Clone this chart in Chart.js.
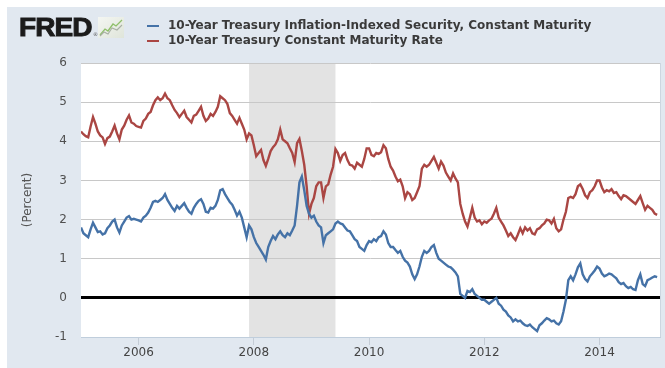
<!DOCTYPE html>
<html>
<head>
<meta charset="utf-8">
<script src="https://cdn.jsdelivr.net/npm/chart.js@4.4.1/dist/chart.umd.min.js"></script>
<style>
  html, body { margin: 0; padding: 0; background: #ffffff; width: 665px; height: 368px; overflow: hidden; }
  #panel { position: absolute; left: 7px; top: 7px; width: 658px; height: 361px; background: #e1e8f0; }
  #wrap { position: absolute; left: 0; top: 0; width: 665px; height: 368px; }
  #logo { position: absolute; left: 19px; top: 15px; font-family: "Liberation Sans", Arial, sans-serif; font-weight: bold;
          font-size: 25px; line-height: 25px; color: #1b1b1b; transform: scaleX(1.12); transform-origin: left top; letter-spacing: -0.8px;
          -webkit-text-stroke: 0.9px #1b1b1b; }
  #reg { position: absolute; left: 93px; top: 31px; font-family: "DejaVu Sans", sans-serif; font-size: 5px; color: #555; }
  #icon { position: absolute; left: 98px; top: 17px; }
  #legend { position: absolute; left: 147px; top: 18px; font-family: "DejaVu Sans", Verdana, sans-serif; font-size: 12px; font-weight: bold;
            line-height: 15px; color: #3a3a3a; }
  .row { position: relative; height: 15px; white-space: nowrap; }
  .mk { position: absolute; left: 0; top: 7px; width: 12px; height: 2px; }
  .tx { position: absolute; left: 21px; top: 0; }
</style>
</head>
<body>
<div id="panel"></div>
<div id="wrap"><canvas id="c" width="665" height="368"></canvas></div>
<div id="logo">FRED</div>
<div id="reg">®</div>
<svg id="icon" width="26" height="21" viewBox="0 0 26 21">
  <defs><linearGradient id="g" x1="0" y1="0" x2="1" y2="1"><stop offset="0" stop-color="#f4f6f2"/><stop offset="1" stop-color="#dfe5da"/></linearGradient></defs>
  <rect x="0" y="0" width="26" height="21" fill="url(#g)"/>
  <polyline points="2,18 7,12 10,14 15,7 18,9 24,3" fill="none" stroke="#8fbf6a" stroke-width="1.3"/>
  <polyline points="2,19 6,15 10,17 14,11 19,13 24,8" fill="none" stroke="#a9b0a4" stroke-width="1.1"/>
</svg>
<div id="legend"></div>
<script>
// ---- Data (semi-monthly readings, starting Jan 2005) ----
const startYear = 2005;
const pointsPerYear = 24;

const seriesNames = [
  "10-Year Treasury Inflation-Indexed Security, Constant Maturity",
  "10-Year Treasury Constant Maturity Rate"
];
const seriesColors = ["#4572A7", "#AA4643"];

// 10-Year Treasury Inflation-Indexed Security (percent)
const tipsYield = [
  // 2005
  1.80,1.65,1.60,1.55,1.75,1.92,1.80,1.68,1.70,1.62,1.65,1.78,1.85,1.95,2.00,1.80,1.67,1.85,1.95,2.05,2.09,2.00,2.02,2.00,
  // 2006
  1.98,1.95,2.05,2.10,2.18,2.30,2.45,2.48,2.45,2.50,2.55,2.65,2.50,2.40,2.30,2.22,2.35,2.28,2.35,2.42,2.30,2.20,2.15,2.30,
  // 2007
  2.40,2.48,2.52,2.40,2.20,2.18,2.30,2.28,2.35,2.50,2.75,2.78,2.65,2.55,2.45,2.38,2.25,2.10,2.20,2.05,1.80,1.55,1.85,1.75,
  // 2008
  1.55,1.40,1.30,1.20,1.10,0.98,1.30,1.45,1.58,1.50,1.62,1.70,1.60,1.55,1.65,1.60,1.72,1.85,2.35,2.95,3.10,2.75,2.35,2.15,
  // 2009
  2.05,2.10,1.95,1.85,1.80,1.40,1.60,1.65,1.70,1.75,1.90,1.95,1.90,1.88,1.80,1.72,1.70,1.60,1.50,1.45,1.30,1.25,1.20,1.35,
  // 2010
  1.45,1.42,1.50,1.45,1.55,1.58,1.70,1.62,1.40,1.30,1.30,1.22,1.15,1.20,1.05,0.95,0.90,0.80,0.60,0.48,0.60,0.80,1.05,1.20,
  // 2011
  1.15,1.20,1.30,1.35,1.15,1.00,0.95,0.90,0.85,0.80,0.78,0.72,0.65,0.55,0.10,0.05,0.00,0.18,0.15,0.22,0.10,0.05,0.00,-0.05,
  // 2012
  -0.05,-0.10,-0.15,-0.10,-0.05,0.00,-0.15,-0.20,-0.30,-0.35,-0.45,-0.50,-0.60,-0.55,-0.60,-0.58,-0.65,-0.70,-0.72,-0.68,-0.75,-0.80,-0.85,-0.70,
  // 2013
  -0.65,-0.58,-0.52,-0.55,-0.60,-0.58,-0.65,-0.68,-0.60,-0.35,-0.05,0.45,0.55,0.45,0.60,0.78,0.88,0.60,0.48,0.42,0.55,0.62,0.70,0.80,
  // 2014
  0.75,0.62,0.55,0.58,0.62,0.60,0.55,0.50,0.40,0.35,0.38,0.30,0.25,0.28,0.22,0.20,0.45,0.60,0.35,0.30,0.45,0.48,0.52,0.55,
  // Jan 2015
  0.53
];

// 10-Year Treasury Constant Maturity Rate (percent)
const nominalYield = [
  // 2005
  4.25,4.18,4.13,4.10,4.38,4.62,4.45,4.25,4.15,4.10,3.93,4.08,4.12,4.25,4.40,4.20,4.05,4.30,4.40,4.55,4.66,4.48,4.45,4.39,
  // 2006
  4.37,4.35,4.52,4.58,4.70,4.75,4.92,5.05,5.12,5.05,5.10,5.22,5.10,5.05,4.92,4.80,4.72,4.62,4.70,4.78,4.62,4.55,4.48,4.65,
  // 2007
  4.68,4.78,4.88,4.65,4.52,4.58,4.70,4.65,4.75,4.88,5.15,5.10,5.05,4.95,4.72,4.65,4.55,4.45,4.60,4.45,4.30,4.05,4.20,4.15,
  // 2008
  3.90,3.62,3.70,3.78,3.52,3.37,3.55,3.75,3.85,3.92,4.05,4.30,4.05,4.00,3.95,3.82,3.70,3.47,3.95,4.06,3.75,3.40,2.85,2.15,
  // 2009
  2.40,2.55,2.85,2.95,2.95,2.55,2.85,2.90,3.15,3.35,3.80,3.70,3.50,3.65,3.70,3.52,3.40,3.38,3.30,3.45,3.40,3.35,3.55,3.82,
  // 2010
  3.82,3.65,3.62,3.70,3.68,3.72,3.90,3.82,3.55,3.35,3.25,3.10,2.98,3.02,2.85,2.55,2.70,2.65,2.50,2.55,2.70,2.85,3.30,3.40,
  // 2011
  3.35,3.40,3.50,3.60,3.45,3.30,3.48,3.38,3.20,3.10,3.00,3.18,3.05,2.95,2.40,2.15,1.95,1.82,2.05,2.30,2.05,1.95,1.98,1.88,
  // 2012
  1.95,1.92,1.98,2.02,2.15,2.30,2.05,1.95,1.85,1.72,1.58,1.65,1.55,1.48,1.62,1.78,1.65,1.80,1.72,1.78,1.65,1.62,1.75,1.78,
  // 2013
  1.85,1.90,2.00,1.98,1.90,2.02,1.78,1.70,1.75,2.00,2.20,2.55,2.58,2.55,2.65,2.85,2.90,2.78,2.62,2.55,2.70,2.75,2.85,3.00,
  // 2014
  3.00,2.82,2.70,2.75,2.72,2.78,2.68,2.70,2.60,2.52,2.62,2.60,2.55,2.50,2.45,2.40,2.50,2.60,2.42,2.25,2.35,2.30,2.25,2.15,
  // Jan 2015
  2.12
];

const tickYears = [2006, 2008, 2010, 2012, 2014];
const yTicks = [-1, 0, 1, 2, 3, 4, 5, 6];
const recessions = [[2007.917, 2009.417]];
const xRange = [2005.0, 2015.05];
const yAxisTitle = "(Percent)";

// ---- Build ----
function toPoints(values) {
  return values.map((v, i) => ({ x: startYear + i / pointsPerYear, y: v }));
}

const legend = document.getElementById('legend');
seriesNames.forEach((n, i) => {
  const r = document.createElement('div'); r.className = 'row';
  const m = document.createElement('div'); m.className = 'mk'; m.style.background = seriesColors[i];
  const t = document.createElement('div'); t.className = 'tx'; t.textContent = n;
  r.appendChild(m); r.appendChild(t); legend.appendChild(r);
});

const bgPlugin = {
  id: 'bg',
  beforeDraw(chart) {
    const { ctx, chartArea: a, scales } = chart;
    ctx.save();
    ctx.fillStyle = '#ffffff';
    ctx.fillRect(a.left, a.top, a.right - a.left, a.bottom - a.top);
    ctx.fillStyle = '#e3e3e3';
    recessions.forEach(([s, e]) => {
      const x0 = scales.x.getPixelForValue(s), x1 = scales.x.getPixelForValue(e);
      ctx.fillRect(x0, a.top, x1 - x0, a.bottom - a.top);
    });
    ctx.restore();
  },
  afterDraw(chart) {
    const { ctx, chartArea: a } = chart;
    ctx.save();
    ctx.strokeStyle = '#cdd6e0';
    ctx.lineWidth = 1;
    ctx.beginPath();
    ctx.moveTo(a.right + 0.5, a.top);
    ctx.lineTo(a.right + 0.5, a.bottom);
    ctx.stroke();
    ctx.restore();
  }
};

new Chart(document.getElementById('c'), {
  type: 'line',
  data: {
    datasets: [
      { label: seriesNames[0], data: toPoints(tipsYield), borderColor: seriesColors[0], borderWidth: 2.4, pointRadius: 0, tension: 0 },
      { label: seriesNames[1], data: toPoints(nominalYield), borderColor: seriesColors[1], borderWidth: 2.4, pointRadius: 0, tension: 0 }
    ]
  },
  options: {
    responsive: false,
    animation: false,
    devicePixelRatio: 1,
    layout: { padding: { left: 7, top: 63, right: 5, bottom: 0 } },
    plugins: { legend: { display: false }, tooltip: { enabled: false } },
    scales: {
      x: {
        type: 'linear',
        min: xRange[0], max: xRange[1],
        afterBuildTicks: s => { s.ticks = tickYears.map(v => ({ value: v })); },
        afterFit: s => { s.height = 31; },
        ticks: { color: '#444', font: { family: 'DejaVu Sans', size: 12 }, padding: 1, maxRotation: 0, autoSkip: false,
                 callback: v => String(v) },
        grid: { drawOnChartArea: false, drawTicks: true, tickLength: 8, color: '#c4ccd6' },
        border: { display: true, color: '#c0cedc', width: 1 }
      },
      y: {
        min: -1, max: 6,
        afterBuildTicks: s => { s.ticks = yTicks.map(v => ({ value: v })); },
        afterFit: s => { s.width = 74; },
        ticks: { color: '#505050', font: { family: 'DejaVu Sans', size: 12 }, padding: 14 },
        grid: {
          drawTicks: false,
          color: c => (c.tick && c.tick.value === 0) ? '#000000' : (c.tick && c.tick.value === -1 ? 'rgba(0,0,0,0)' : '#c8c8c8'),
          lineWidth: c => (c.tick && c.tick.value === 0) ? 3 : 1
        },
        border: { display: false },
        title: { display: true, text: yAxisTitle, color: '#555', font: { family: 'DejaVu Sans', size: 12 }, padding: { top: 14, bottom: 0 } }
      }
    }
  },
  plugins: [bgPlugin]
});
</script>
</body>
</html>
